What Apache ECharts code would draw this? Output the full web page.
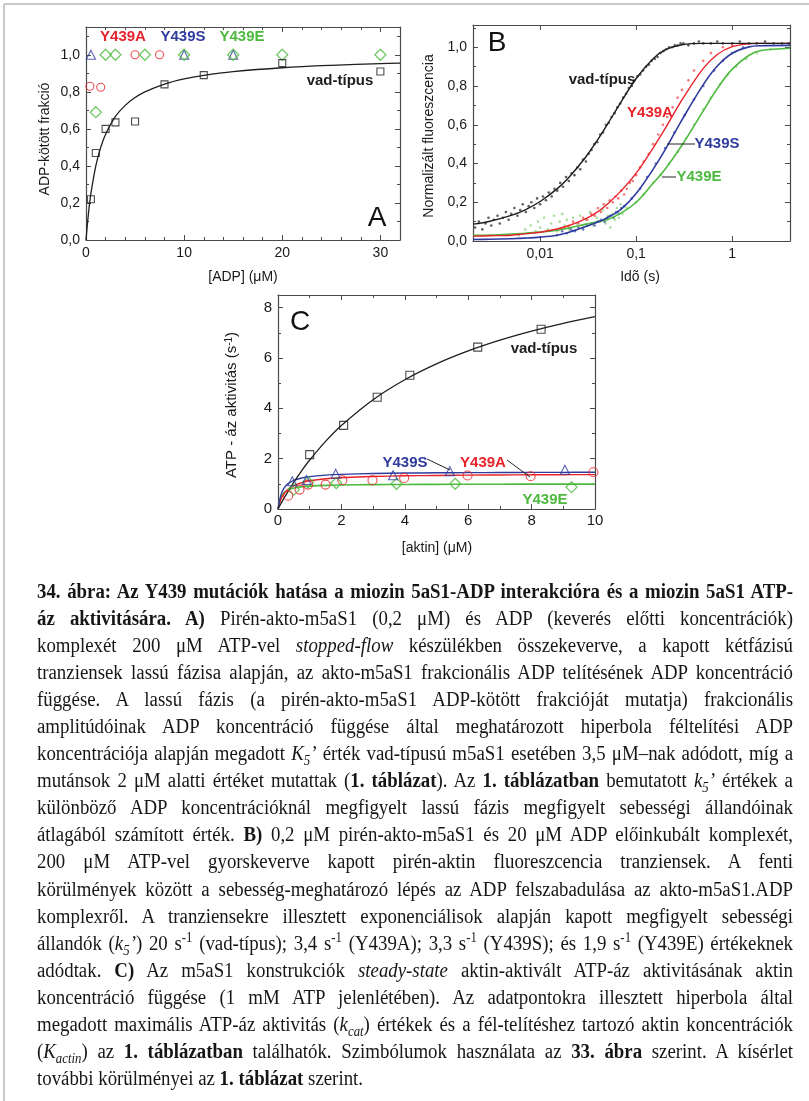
<!DOCTYPE html>
<html><head><meta charset="utf-8">
<script src="https://cdn.jsdelivr.net/npm/echarts@6/dist/echarts.min.js"></script>
<style>
html,body{margin:0;padding:0;background:#fff;}
#chart{position:absolute;left:0;top:0;width:809px;height:1101px;}
#caption{position:absolute;left:37px;top:578px;font-family:"Liberation Serif","Times New Roman",serif;font-size:20px;line-height:27.05px;color:#161616;transform-origin:0 0;}
.ln{white-space:nowrap;height:27.05px;}
.ln span.in{display:inline-block;}
sub,sup{font-size:0.68em;line-height:0;}
</style></head><body>
<div id="chart"></div>
<div id="caption"></div>
<script>
// ---------------- DATA ----------------
// Panel A: ADP-bound fraction vs [ADP] (µM)
const adpWT_x = [0.5, 1, 2, 3, 5, 8, 12, 20, 30];
const adpWT_y = [0.22, 0.47, 0.60, 0.635, 0.64, 0.84, 0.89, 0.955, 0.91];
const adpA = [[0.4, 0.83], [1.5, 0.825], [5, 1.0], [7.5, 1.0]];
const adpS = [[0.5, 1.0], [10, 1.0], [15, 1.0]];
const adpE = [[1, 0.69], [2, 1.0], [3, 1.0], [6, 1.0], [10, 1.0], [15, 1.0], [20, 1.0], [30, 1.0]];
const adpFit_x = [0, 0.25, 0.5, 1, 1.5, 2, 3, 4, 5, 6, 8, 10, 12, 15, 20, 25, 30, 32];
const adpFit_y = [0, 0.143, 0.25, 0.40, 0.50, 0.571, 0.667, 0.727, 0.769, 0.80, 0.842, 0.870, 0.889, 0.909, 0.930, 0.943, 0.952, 0.955];

// Panel B: normalized fluorescence vs time (s)
const fitT = [0.002, 0.003, 0.005, 0.007, 0.01, 0.015, 0.02, 0.03, 0.04, 0.05, 0.07, 0.1, 0.15, 0.2, 0.3, 0.5, 0.7, 1, 1.5, 2, 4];
const fitWT = [0.087, 0.102, 0.132, 0.161, 0.204, 0.269, 0.329, 0.435, 0.525, 0.601, 0.720, 0.839, 0.941, 0.986, 1.013, 1.020, 1.02, 1.02, 1.02, 1.02, 1.02];
const fitA = [0.025, 0.027, 0.03, 0.037, 0.045, 0.062, 0.08, 0.115, 0.152, 0.19, 0.26, 0.35, 0.48, 0.58, 0.728, 0.891, 0.963, 1.003, 1.018, 1.02, 1.02];
const fitS = [0.008, 0.009, 0.012, 0.015, 0.02, 0.03, 0.045, 0.075, 0.098, 0.12, 0.165, 0.245, 0.37, 0.47, 0.625, 0.807, 0.903, 0.969, 1.002, 1.008, 1.01];
const fitE = [0.029, 0.031, 0.036, 0.04, 0.046, 0.056, 0.067, 0.087, 0.1, 0.11, 0.145, 0.2, 0.298, 0.37, 0.494, 0.672, 0.787, 0.887, 0.959, 0.983, 0.995];
const trWT = [[0.0021,0.07],[0.0023,0.10],[0.0025,0.06],[0.0027,0.09],[0.0029,0.12],[0.0031,0.08],[0.0033,0.11],[0.0036,0.13],[0.0038,0.09],[0.0041,0.12],[0.0044,0.15],[0.0047,0.11],[0.005,0.14],[0.0054,0.17],[0.0058,0.13],[0.0062,0.16],[0.0066,0.19],[0.0071,0.15],[0.0076,0.18],[0.0081,0.2],[0.0087,0.17],[0.0093,0.22],[0.01,0.19],
  [0.0107,0.23],[0.0115,0.21],[0.0123,0.25],[0.0132,0.23],[0.0141,0.27],[0.0151,0.26],[0.0162,0.3],[0.0173,0.28],[0.0186,0.33],[0.0199,0.31],[0.0213,0.35],[0.0228,0.34],[0.0244,0.38],[0.0262,0.37],[0.028,0.42],[0.03,0.41],
  [0.032,0.45],[0.0343,0.47],[0.0367,0.5],[0.0394,0.51],[0.0422,0.55],[0.0452,0.56],[0.0484,0.6],[0.0518,0.61],[0.0555,0.64],[0.0595,0.66],[0.0637,0.69],[0.0683,0.71],[0.0732,0.74],[0.0784,0.76],[0.084,0.79],[0.09,0.8],[0.0964,0.83],
  [0.103,0.85],[0.11,0.86],[0.118,0.88],[0.127,0.9],[0.136,0.91],[0.145,0.93],[0.156,0.94],[0.167,0.95],[0.179,0.97],[0.192,0.98],[0.205,0.99],[0.22,1.0],[0.236,1.0],[0.253,1.01],[0.271,1.01],[0.29,1.02],
  [0.31,1.02],[0.35,1.01],[0.4,1.02],[0.45,1.03],[0.5,1.02],[0.6,1.02],[0.7,1.03],[0.8,1.02],[1.0,1.02],[1.2,1.03],[1.5,1.02],[1.8,1.02],[2.2,1.03],[2.7,1.02],[3.3,1.02],[3.9,1.02]];
const trA = [[0.02,0.07],[0.022,0.1],[0.025,0.09],[0.028,0.12],[0.031,0.11],[0.034,0.14],[0.037,0.13],[0.04,0.17],[0.043,0.15],[0.046,0.19],[0.05,0.17],[0.053,0.21],[0.057,0.2],[0.061,0.23],[0.065,0.22],[0.07,0.26],[0.075,0.24],[0.08,0.27],[0.086,0.3],[0.092,0.31],[0.1,0.34],[0.11,0.38],[0.12,0.41],[0.135,0.45],[0.15,0.5],[0.17,0.55],[0.19,0.6],[0.21,0.64],[0.24,0.69],[0.27,0.74],[0.3,0.78],[0.35,0.83],[0.4,0.88],[0.5,0.93],[0.6,0.97],[0.8,1.0],[1.0,1.01]];
const trS = [[0.015,0.03],[0.017,0.05],[0.019,0.04],[0.021,0.06],[0.023,0.05],[0.025,0.07],[0.028,0.06],[0.031,0.08],[0.034,0.09],[0.037,0.08],[0.04,0.1],[0.043,0.11],[0.047,0.1],[0.05,0.12],[0.054,0.13],[0.058,0.12],[0.062,0.15],[0.066,0.14],[0.07,0.17],[0.075,0.18],[0.09,0.22],[0.11,0.27],[0.13,0.33],[0.16,0.4],[0.2,0.48],[0.25,0.56],[0.32,0.65],[0.4,0.73],[0.5,0.8],[0.65,0.88],[0.8,0.93],[1.0,0.97],[1.3,1.0]];
const trE = [[0.006,0.03],[0.007,0.06],[0.0075,0.04],[0.008,0.08],[0.009,0.05],[0.0095,0.1],[0.01,0.07],[0.011,0.12],[0.012,0.06],[0.013,0.09],[0.014,0.13],[0.015,0.05],[0.016,0.1],[0.017,0.14],[0.018,0.08],[0.019,0.11],[0.02,0.06],[0.022,0.12],[0.024,0.09],[0.026,0.13],[0.028,0.07],[0.03,0.11],[0.033,0.15],[0.036,0.08],[0.039,0.12],[0.042,0.1],[0.045,0.16],[0.048,0.09],[0.051,0.13],[0.054,0.07],[0.057,0.14],[0.06,0.11],[0.063,0.17],[0.066,0.12],[0.069,0.19],[0.072,0.14],
  [0.08,0.17],[0.1,0.2],[0.12,0.24],[0.15,0.3],[0.18,0.34],[0.22,0.4],[0.27,0.46],[0.33,0.53],[0.4,0.6],[0.5,0.68],[0.6,0.74],[0.75,0.81],[0.9,0.86],[1.1,0.9],[1.4,0.94],[1.8,0.97],[2.5,0.99]];

// Panel C: ATPase activity (1/s) vs [actin] (µM)
const actWT = [[1.0,2.16],[2.07,3.32],[3.13,4.44],[4.16,5.31],[6.3,6.43],[8.3,7.14]];
const actA = [[0.32,0.53],[0.68,0.77],[0.95,0.97],[1.5,0.97],[2.03,1.14],[2.98,1.14],[3.98,1.23],[5.98,1.33],[7.97,1.30],[9.95,1.46]];
const actS = [[0.45,1.10],[0.9,1.15],[1.82,1.40],[3.63,1.34],[5.42,1.50],[9.05,1.56]];
const actE = [[0.5,0.77],[0.95,1.06],[1.84,1.03],[3.74,1.0],[5.59,1.0],[9.26,0.87]];
const actFit_x = [0, 0.1, 0.2, 0.3, 0.5, 0.75, 1, 1.5, 2, 3, 4, 5, 6, 7, 8, 9, 10];
const actFitWT = [0, 0.230, 0.451, 0.663, 1.064, 1.524, 1.945, 2.687, 3.320, 4.343, 5.134, 5.764, 6.277, 6.704, 7.064, 7.372, 7.638];
const actFitS = [0, 0.592, 0.846, 0.987, 1.138, 1.233, 1.287, 1.345, 1.377, 1.410, 1.427, 1.437, 1.444, 1.449, 1.453, 1.456, 1.458];
const actFitA = [0, 0.4, 0.622, 0.764, 0.933, 1.05, 1.12, 1.2, 1.244, 1.292, 1.318, 1.333, 1.344, 1.351, 1.358, 1.362, 1.366];
const actFitE = [0, 0.5, 0.667, 0.75, 0.833, 0.882, 0.909, 0.9375, 0.952, 0.968, 0.976, 0.980, 0.984, 0.986, 0.988, 0.989, 0.990];

// Caption lines (as printed)
const captionLines = [
 '<b>34. ábra: Az Y439 mutációk hatása a miozin 5aS1-ADP interakcióra és a miozin 5aS1 ATP-</b>',
 '<b>áz aktivitására. A)</b> Pirén-akto-m5aS1 (0,2 μM) és ADP (keverés előtti koncentrációk)',
 'komplexét 200 μM ATP-vel <i>stopped-flow</i> készülékben összekeverve, a kapott kétfázisú',
 'tranziensek lassú fázisa alapján, az akto-m5aS1 frakcionális ADP telítésének ADP koncentráció',
 'függése. A lassú fázis (a pirén-akto-m5aS1 ADP-kötött frakcióját mutatja) frakcionális',
 'amplitúdóinak ADP koncentráció függése által meghatározott hiperbola féltelítési ADP',
 'koncentrációja alapján megadott <i>K<sub>5</sub>’</i> érték vad-típusú m5aS1 esetében 3,5 μM–nak adódott, míg a',
 'mutánsok 2 μM alatti értéket mutattak (<b>1. táblázat</b>). Az <b>1. táblázatban</b> bemutatott <i>k<sub>5</sub>’</i> értékek a',
 'különböző ADP koncentrációknál megfigyelt lassú fázis megfigyelt sebességi állandóinak',
 'átlagából számított érték. <b>B)</b> 0,2 μM pirén-akto-m5aS1 és 20 μM ADP előinkubált komplexét,',
 '200 μM ATP-vel gyorskeverve kapott pirén-aktin fluoreszcencia tranziensek. A fenti',
 'körülmények között a sebesség-meghatározó lépés az ADP felszabadulása az akto-m5aS1.ADP',
 'komplexről. A tranziensekre illesztett exponenciálisok alapján kapott megfigyelt sebességi',
 'állandók (<i>k<sub>5</sub>’</i>) 20 s<sup>-1</sup> (vad-típus); 3,4 s<sup>-1</sup> (Y439A); 3,3 s<sup>-1</sup> (Y439S); és 1,9 s<sup>-1</sup> (Y439E) értékeknek',
 'adódtak. <b>C)</b> Az m5aS1 konstrukciók <i>steady-state</i> aktin-aktivált ATP-áz aktivitásának aktin',
 'koncentráció függése (1 mM ATP jelenlétében). Az adatpontokra illesztett hiperbola által',
 'megadott maximális ATP-áz aktivitás (<i>k<sub>cat</sub></i>) értékek és a fél-telítéshez tartozó aktin koncentrációk',
 '(<i>K<sub>actin</sub></i>) az <b>1. táblázatban</b> találhatók. Szimbólumok használata az <b>33. ábra</b> szerint. A kísérlet',
 'további körülményei az <b>1. táblázat</b> szerint.'
];

// ---------------- STYLE ----------------
const SANS = '"Liberation Sans", Arial, sans-serif';
const AX = '#4a4a4a';
const BLACK = '#1e1e1e', RED = '#e8232b', BLUE = '#2f3c9e', GREEN = '#4dba3f';

function axesFor(dim, g, c) {
  const pos = dim === 'x' ? ['bottom', 'top'] : ['left', 'right'];
  const common = {gridIndex: g, type: c.type || 'value', min: c.min, max: c.max, splitLine: {show: false}};
  if (c.type === 'log') common.logBase = 10;
  const major = c.type === 'log' ? {} : {interval: c.major};
  const line = {show: true, onZero: false, lineStyle: {color: AX, width: 1.2}};
  const tick = {show: true, inside: true, length: 5, lineStyle: {color: AX, width: 1}};
  const out = [
    Object.assign({}, common, major, {position: pos[0], axisLine: line, axisTick: tick,
      axisLabel: {show: true, formatter: c.fmt, showMaxLabel: !!c.showMax, showMinLabel: true,
        fontSize: c.fs, color: '#1a1a1a', margin: c.margin, fontFamily: SANS}}),
    Object.assign({}, common, major, {position: pos[1], axisLine: line, axisTick: tick, axisLabel: {show: false}})
  ];
  if (c.minor) {
    const mt = {show: true, inside: true, length: 3, lineStyle: {color: AX, width: 1}};
    out.push(Object.assign({}, common, {interval: c.minor, position: pos[0], axisLine: {show: false, onZero: false}, axisTick: mt, axisLabel: {show: false}}));
    out.push(Object.assign({}, common, {interval: c.minor, position: pos[1], axisLine: {show: false, onZero: false}, axisTick: mt, axisLabel: {show: false}}));
  }
  return out;
}
const comma1 = v => v.toFixed(1).replace('.', ',');
const intFmt = v => String(v);
const logFmt = v => { const l = Math.log10(v); if (Math.abs(l - Math.round(l)) > 1e-6) return ''; return String(Math.pow(10, Math.round(l))).replace('.', ','); };

const xA = axesFor('x', 0, {min: 0, max: 32, major: 10, minor: 2, fmt: intFmt, fs: 14, margin: 6});
const xB = axesFor('x', 1, {type: 'log', min: 0.002, max: 4, fmt: logFmt, fs: 14, margin: 6});
const xC = axesFor('x', 2, {min: 0, max: 10, major: 2, minor: 1, fmt: intFmt, fs: 15, margin: 4, showMax: true});
const yA = axesFor('y', 0, {min: 0, max: 1.15, major: 0.2, minor: 0.1, fmt: comma1, fs: 14, margin: 6});
const yB = axesFor('y', 1, {min: 0, max: 1.115, major: 0.2, minor: 0.1, fmt: comma1, fs: 14, margin: 6});
const yC = axesFor('y', 2, {min: 0, max: 8.5, major: 2, minor: 1, fmt: intFmt, fs: 15, margin: 6});
const xAxes = [].concat(xA, xB, xC), yAxes = [].concat(yA, yB, yC);
const xM = [0, xA.length, xA.length + xB.length];
const yM = [0, yA.length, yA.length + yB.length];

const zip = (xs, ys) => xs.map((x, i) => [x, ys[i]]);
function hollow(g, data, symbol, size, color, bw) {
  return {type: 'scatter', xAxisIndex: xM[g], yAxisIndex: yM[g], data: data, symbol: symbol, symbolSize: size,
    itemStyle: {color: 'rgba(0,0,0,0)', borderColor: color, borderWidth: bw || 1.1}, z: 5};
}
function fit(g, data, color, w) {
  return {type: 'line', xAxisIndex: xM[g], yAxisIndex: yM[g], data: data, smooth: 0.35, showSymbol: false,
    lineStyle: {color: color, width: w || 1.4}, z: 4};
}
function dots(g, data, color, size) {
  return {type: 'scatter', xAxisIndex: xM[g], yAxisIndex: yM[g], data: data, symbol: 'circle', symbolSize: size || 2.2,
    itemStyle: {color: color}, z: 3};
}

const series = [
  // A
  hollow(0, adpS, 'triangle', 9, BLUE),
  hollow(0, adpA, 'circle', 8, RED),
  hollow(0, adpE, 'diamond', 11, GREEN, 1.3),
  fit(0, zip(adpFit_x, adpFit_y), BLACK, 1.3),
  hollow(0, zip(adpWT_x, adpWT_y), 'rect', 7, BLACK),
  // B
  dots(1, trWT, 'rgba(20,20,20,0.85)', 2.6),
  dots(1, trE, 'rgba(110,200,90,0.75)', 2.6),
  dots(1, trS, 'rgba(50,60,170,0.85)', 2.6),
  dots(1, trA, 'rgba(232,40,45,0.8)', 2.6),
  fit(1, zip(fitT, fitE), GREEN, 1.6),
  fit(1, zip(fitT, fitS), BLUE, 1.6),
  fit(1, zip(fitT, fitA), RED, 1.4),
  fit(1, zip(fitT, fitWT), BLACK, 1.4),
  // C
  fit(2, zip(actFit_x, actFitE), GREEN, 1.6),
  fit(2, zip(actFit_x, actFitA), RED, 1.4),
  fit(2, zip(actFit_x, actFitS), BLUE, 1.4),
  fit(2, zip(actFit_x, actFitWT), BLACK, 1.3),
  hollow(2, actE, 'diamond', 11, GREEN, 1.3),
  hollow(2, actA, 'circle', 9, RED),
  hollow(2, actS, 'triangle', 9, BLUE),
  hollow(2, actWT, 'rect', 8, BLACK)
];

function txt(x, y, text, fill, size, bold, rot) {
  return {type: 'text', x: x, y: y, rotation: rot || 0, z: 20,
    style: {text: text, fill: fill, font: (bold ? 'bold ' : '') + size + 'px ' + SANS, align: 'center', verticalAlign: 'middle'}};
}
function seg(x1, y1, x2, y2) {
  return {type: 'line', z: 20, shape: {x1: x1, y1: y1, x2: x2, y2: y2}, style: {stroke: '#222', lineWidth: 1}};
}
const graphics = [
  {type: 'line', shape: {x1: 4, y1: 4, x2: 809, y2: 4}, style: {stroke: '#c9c9c9', lineWidth: 2}},
  {type: 'line', shape: {x1: 4, y1: 4, x2: 4, y2: 1101}, style: {stroke: '#c9c9c9', lineWidth: 2}},
  // A
  txt(123, 37, 'Y439A', RED, 15, true), txt(183, 37, 'Y439S', BLUE, 15, true), txt(242, 37, 'Y439E', GREEN, 15, true),
  txt(340, 81, 'vad-típus', BLACK, 15, true), txt(377, 218, 'A', '#111', 28, false),
  txt(45, 139, 'ADP-kötött frakció', '#1a1a1a', 14, false, Math.PI / 2),
  txt(243, 277, '[ADP] (μM)', '#1a1a1a', 14, false),
  // B
  txt(497, 43, 'B', '#111', 28, false), txt(602, 80, 'vad-típus', BLACK, 15, true),
  txt(650, 113, 'Y439A', RED, 15, true), txt(717, 144, 'Y439S', BLUE, 15, true), txt(699, 177, 'Y439E', GREEN, 15, true),
  seg(667, 144, 695, 144), seg(662, 177, 676, 177),
  txt(429, 136, 'Normalizált fluoreszcencia', '#1a1a1a', 14, false, Math.PI / 2),
  txt(640, 277, 'Idõ (s)', '#1a1a1a', 14, false),
  // C
  txt(300, 322, 'C', '#111', 28, false), txt(544, 349, 'vad-típus', BLACK, 15, true),
  txt(405, 463, 'Y439S', BLUE, 15, true), txt(483, 463, 'Y439A', RED, 15, true), txt(545, 500, 'Y439E', GREEN, 15, true),
  seg(427, 459, 450, 470), seg(507, 460, 530, 477),
  {type: 'text', x: 232, y: 405, rotation: Math.PI / 2, z: 20,
    style: {text: 'ATP - áz aktivitás (s{sup|-1})', fill: '#1a1a1a', font: '15px ' + SANS, align: 'center', verticalAlign: 'middle',
      rich: {sup: {fontSize: 10, fontFamily: SANS, verticalAlign: 'top', lineHeight: 14, fill: '#1a1a1a'}}}},
  txt(437, 548, '[aktin] (μM)', '#1a1a1a', 14, false)
];

const chart = echarts.init(document.getElementById('chart'), null, {renderer: 'canvas'});
chart.setOption({
  animation: false,
  backgroundColor: '#fff',
  textStyle: {fontFamily: SANS},
  grid: [
    {left: 86, top: 27, width: 314, height: 213, outerBoundsMode: 'none'},
    {left: 473, top: 25, width: 317, height: 216, outerBoundsMode: 'none'},
    {left: 278, top: 295, width: 317, height: 214, outerBoundsMode: 'none'}
  ],
  xAxis: xAxes,
  yAxis: yAxes,
  series: series,
  graphic: graphics
});

// ---------------- CAPTION ----------------
const cap = document.getElementById('caption');
captionLines.forEach(h => {
  const d = document.createElement('div'); d.className = 'ln';
  const s = document.createElement('span'); s.className = 'in'; s.innerHTML = h;
  d.appendChild(s); cap.appendChild(d);
});
const lines = Array.from(cap.querySelectorAll('span.in'));
const lastW = lines[lines.length - 1].getBoundingClientRect().width;
let sc = 326 / lastW; sc = Math.max(0.78, Math.min(1, sc));
const target = 756 / sc;
lines.forEach((s, i) => {
  if (i === lines.length - 1) return;
  const w = s.getBoundingClientRect().width;
  const n = (s.textContent.match(/ /g) || []).length;
  if (n) s.style.wordSpacing = ((target - w) / n) + 'px';
});
cap.style.transform = 'scaleX(' + sc + ')';
</script>
</body></html>
